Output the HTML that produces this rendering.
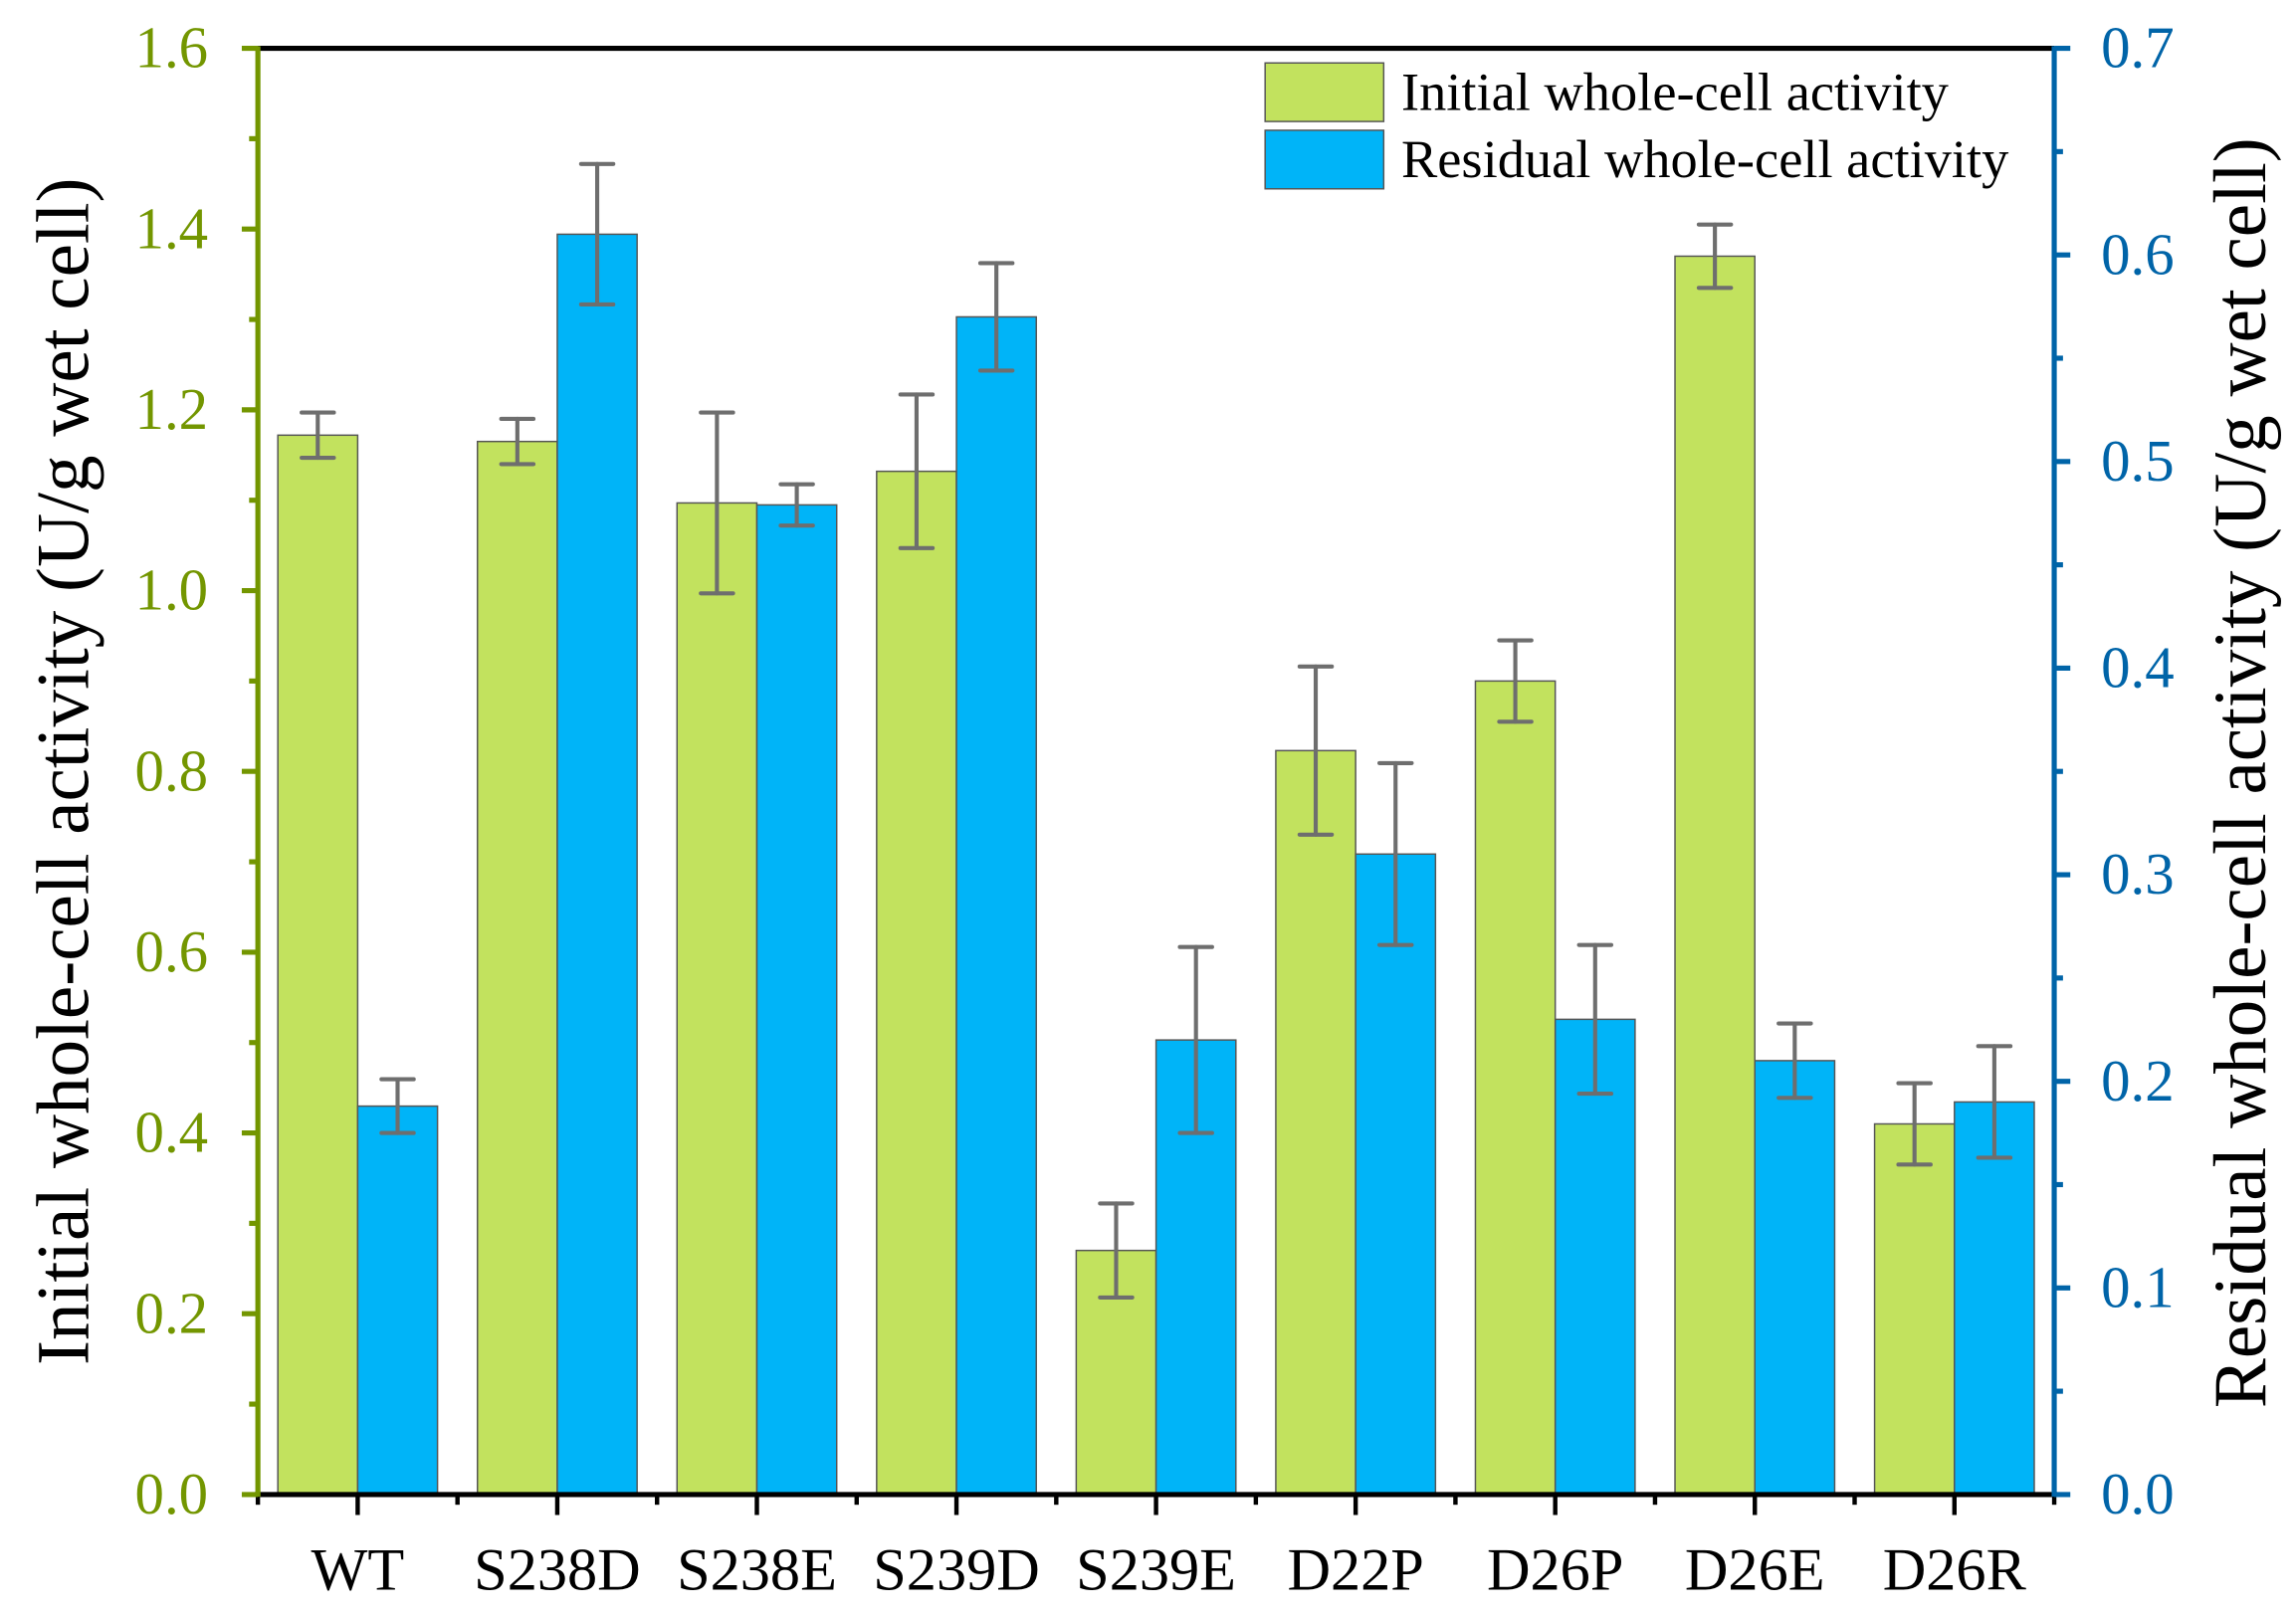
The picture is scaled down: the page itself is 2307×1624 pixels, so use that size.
<!DOCTYPE html>
<html><head><meta charset="utf-8"><style>
html,body{margin:0;padding:0;background:#fff;}
svg{display:block;}
text{font-family:"Liberation Serif",serif;}
</style></head><body>
<svg id="chart" width="2307" height="1624" viewBox="0 0 1568 1104" xmlns="http://www.w3.org/2000/svg"></svg>
<script>
const categories = ["WT","S238D","S238E","S239D","S239E","D22P","D26P","D26E","D26R"];
const initialValues = [1.172,1.165,1.097,1.132,0.270,0.823,0.900,1.370,0.410];
const initialErrors = [0.025,0.025,0.100,0.085,0.052,0.093,0.045,0.035,0.045];
const residualValues = [0.188,0.610,0.479,0.570,0.220,0.310,0.230,0.210,0.190];
const residualErrors = [0.013,0.034,0.010,0.026,0.045,0.044,0.036,0.018,0.027];
const leftTicks = ["0.0","0.2","0.4","0.6","0.8","1.0","1.2","1.4","1.6"];
const rightTicks = ["0.0","0.1","0.2","0.3","0.4","0.5","0.6","0.7"];

const NS = "http://www.w3.org/2000/svg";
const svg = document.getElementById("chart");
const L = 176, R = 1403, T = 33, B = 1021;
const yL = v => B - v / 1.6 * (B - T);
const yR = v => B - v / 0.7 * (B - T);
const gw = (R - L) / categories.length;
const xc = i => L + gw * (i + 0.5);
const bw = gw * 0.4;
function mk(tag, attrs, parent) {
  const e = document.createElementNS(NS, tag);
  for (const k in attrs) e.setAttribute(k, attrs[k]);
  (parent || svg).appendChild(e);
  return e;
}
const green = "#c2e25e", blue = "#00b4f8", olive = "#739600", navy = "#0064a8", errC = "#6e6e6e";

for (let i = 0; i < categories.length; i++) {
  const c = xc(i);
  let r = mk("rect", {x: c - bw, y: yL(initialValues[i]), width: bw, height: B - yL(initialValues[i]), fill: green, stroke: "#555", "stroke-width": 1});
  
  
  r = mk("rect", {x: c, y: yR(residualValues[i]), width: bw, height: B - yR(residualValues[i]), fill: blue, stroke: "#555", "stroke-width": 1});
  
  
  const sets = [[c - bw / 2, yL(initialValues[i] + initialErrors[i]), yL(initialValues[i] - initialErrors[i]), 'initial'],
                [c + bw / 2, yR(residualValues[i] + residualErrors[i]), yR(residualValues[i] - residualErrors[i]), 'residual']];
  sets.forEach(s => {
    const g = mk("g", {stroke: errC, "stroke-width": 2.8, "stroke-linecap": "round"});
    
    
    mk("line", {x1: s[0], x2: s[0], y1: s[1], y2: s[2]}, g);
    mk("line", {x1: s[0] - 11, x2: s[0] + 11, y1: s[1], y2: s[1]}, g);
    mk("line", {x1: s[0] - 11, x2: s[0] + 11, y1: s[2], y2: s[2]}, g);
  });
  const t = mk("text", {x: c, y: 1086, "font-size": 41, "text-anchor": "middle", fill: "#000"});
  t.textContent = categories[i];
  
  
}

let a = mk("line", {x1: L, x2: R, y1: T, y2: T, stroke: "#000", "stroke-width": 3.5});
 
a = mk("line", {x1: L - 2, x2: R + 2, y1: B, y2: B, stroke: "#000", "stroke-width": 3.5});
 
for (let i = 0; i < categories.length; i++) {
  let tk = mk("line", {x1: xc(i), x2: xc(i), y1: B, y2: B + 14, stroke: "#000", "stroke-width": 3});
   
}
for (let i = 0; i <= categories.length; i++) {
  let tk = mk("line", {x1: L + gw * i, x2: L + gw * i, y1: B, y2: B + 7, stroke: "#000", "stroke-width": 3});
   
}
a = mk("line", {x1: L, x2: L, y1: T - 1.5, y2: B + 1.5, stroke: olive, "stroke-width": 3.5});
 
leftTicks.forEach((lab, i) => {
  const v = i * 0.2, y = yL(v);
  let tk = mk("line", {x1: L - 11, x2: L, y1: y, y2: y, stroke: olive, "stroke-width": 3.5});
   
  if (i < leftTicks.length - 1) {
    tk = mk("line", {x1: L - 6, x2: L, y1: yL(v + 0.1), y2: yL(v + 0.1), stroke: olive, "stroke-width": 3.5});
     
  }
  const t = mk("text", {x: 142, y: y + 13, "font-size": 40, "text-anchor": "end", fill: olive});
  t.textContent = lab;
   
});
a = mk("line", {x1: R, x2: R, y1: T - 1.5, y2: B + 1.5, stroke: navy, "stroke-width": 3.5});
 
rightTicks.forEach((lab, i) => {
  const v = i * 0.1, y = yR(v);
  let tk = mk("line", {x1: R, x2: R + 11, y1: y, y2: y, stroke: navy, "stroke-width": 3.5});
   
  if (i < rightTicks.length - 1) {
    tk = mk("line", {x1: R, x2: R + 6, y1: yR(v + 0.05), y2: yR(v + 0.05), stroke: navy, "stroke-width": 3.5});
     
  }
  const t = mk("text", {x: 1435, y: y + 13, "font-size": 40, "text-anchor": "start", fill: navy});
  t.textContent = lab;
   
});

let tt = mk("text", {x: 0, y: 0, "font-size": 51, "text-anchor": "middle", fill: "#000", transform: "translate(60,527) rotate(-90)"});
tt.textContent = "Initial whole-cell activity (U/g wet cell)";
 
tt = mk("text", {x: 0, y: 0, "font-size": 51, "text-anchor": "middle", fill: "#000", transform: "translate(1547,528) rotate(-90)"});
tt.textContent = "Residual whole-cell activity (U/g wet cell)";
 

const lg = mk("g", {});
 
[["Initial whole-cell activity", green, 43], ["Residual whole-cell activity", blue, 89]].forEach((e, k) => {
  const g = mk("g", {}, lg);
  
  
  mk("rect", {x: 864, y: e[2], width: 81, height: 40, fill: e[1], stroke: "#555", "stroke-width": 1}, g);
  const t = mk("text", {x: 957, y: e[2] + 32, "font-size": 37, fill: "#000"}, g);
  t.textContent = e[0];
});
</script>
</body></html>
